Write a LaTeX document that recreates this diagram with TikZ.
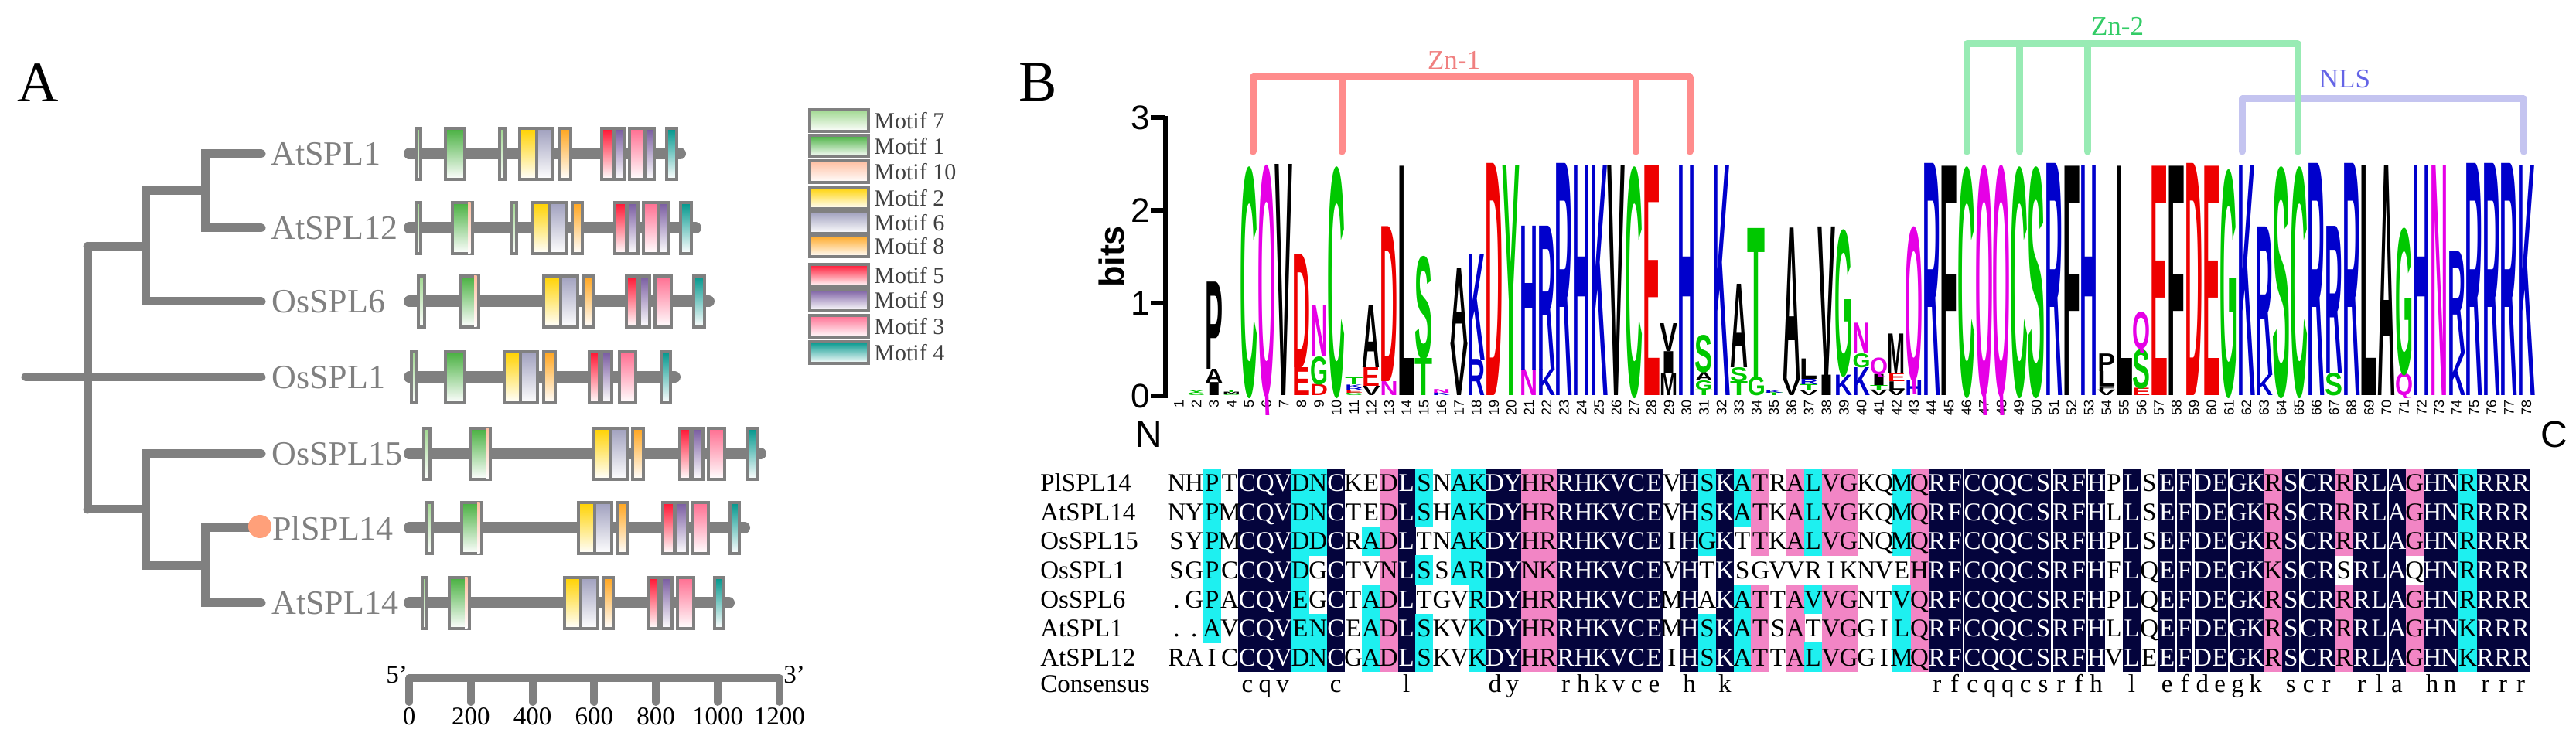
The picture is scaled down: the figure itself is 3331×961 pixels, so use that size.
\documentclass[tikz,border=0pt]{standalone}
\usepackage{fontspec}
\usepackage{graphicx}
\setmainfont{Liberation Serif}
\newfontfamily\sansf{Liberation Sans}
\newcommand\logofont{\sansf\bfseries}
\definecolor{treegray}{HTML}{808080}
\definecolor{legtxt}{HTML}{404040}
\definecolor{c7}{HTML}{A0D890}
\definecolor{c1}{HTML}{48B040}
\definecolor{c10}{HTML}{FFBEA0}
\definecolor{c2}{HTML}{FFD200}
\definecolor{c6}{HTML}{A0A0BE}
\definecolor{c8}{HTML}{FFA51E}
\definecolor{c5}{HTML}{FF1432}
\definecolor{c9}{HTML}{785AA0}
\definecolor{c3}{HTML}{FF6E91}
\definecolor{c4}{HTML}{00968C}
\definecolor{salmonA}{HTML}{FFA07A}
\definecolor{lgG}{HTML}{00C800}
\definecolor{lgB}{HTML}{0000CC}
\definecolor{lgR}{HTML}{EE0000}
\definecolor{lgM}{HTML}{E600E6}
\definecolor{znA}{HTML}{FF8C8C}
\definecolor{znAt}{HTML}{F08080}
\definecolor{znB}{HTML}{98EBB4}
\definecolor{znBt}{HTML}{33CC66}
\definecolor{nlsl}{HTML}{C4C4F0}
\definecolor{nlst}{HTML}{6464E6}
\definecolor{bgn}{HTML}{04043C}
\definecolor{bgp}{HTML}{F285C5}
\definecolor{bgc}{HTML}{1EF0F0}

\newcount\seqcol
\newcount\bgrow
\def\seqloop#1{\ifx#1\relax\else\global\advance\seqcol by 1 \seqcell{#1}\expandafter\seqloop\fi}
\newcommand\seqcell[1]{%
  \pgfmathsetmacro\cx{1510+(\the\seqcol-0.5)*22.87}%
  \pgfmathsetmacro\cy{606+(\seqrow-0.5)*37.6+11}%
  \ifcsname nv\the\seqcol\endcsname\def\tc{white}\else\def\tc{black}\fi
  \node[alnchar,text=\tc] (q\seqrow-\the\seqcol) at (\cx,\cy) {#1};}
\newcommand\alnrow[2]{\def\seqrow{#1}\global\seqcol=0 \seqloop#2\relax}
\def\bgloop#1{\ifx#1\relax\else\global\advance\bgrow by 1 \bgcell#1\expandafter\bgloop\fi}
\newcommand\bgcell[1]{\if#1w\else\fill[bg#1] ({1510+(\j-1)*22.87-0.3},{606+(\the\bgrow-1)*37.6-0.3}) rectangle ({1510+\j*22.87+0.3},{606+\the\bgrow*37.6+0.3});\fi}

\newcommand\logocol[2]{%
  \pgfmathsetmacro\lx{1524.5+(#1-1)*22.63}%
  \gdef\lbase{0}%
  \foreach \L/\C/\H [count=\k] in {#2}{%
    \pgfmathsetmacro\ly{512-\lbase*120}%
    \pgfmathsetmacro\lh{\H*60}%
    \begin{scope}
    \clip (\lx-16,\ly+\H*10) rectangle (\lx+16,\ly-\H*120-20);
    \node[logoletter,text=\C] (lg#1-\k) at (\lx,\ly) {\resizebox{11.5pt}{\lh pt}{\logofont\L}};
    \end{scope}
    \pgfmathsetmacro\lnew{\lbase+\H}\xdef\lbase{\lnew}%
  }}

\newcommand\gene[3]{%
  \draw[geneline] (529.5,#1) -- (#2-7.5,#1);
  \foreach \m/\a/\b in {#3}{\draw[mbox,m\m] (\a,#1-33) rectangle (\b,#1+33);}}

\begin{document}
\begin{tikzpicture}[x=0.5pt,y=-0.5pt,
  tree/.style={draw=treegray,line width=5.5pt,line cap=round},
  leaf/.style={text=treegray,font=\fontsize{22}{26}\selectfont,inner sep=0pt,anchor=west},
  geneline/.style={draw=treegray,line width=7.5pt,line cap=round},
  mbox/.style={draw=treegray,line width=1.75pt},
  m7/.style={top color=c7,bottom color=white},
  m1/.style={top color=c1,bottom color=white},
  m10/.style={top color=c10,bottom color=white},
  m10s/.style={top color=c10,bottom color=white,draw=none},
  m2/.style={top color=c2,bottom color=white},
  m6/.style={top color=c6,bottom color=white},
  m8/.style={top color=c8,bottom color=white},
  m5/.style={top color=c5,bottom color=white},
  m9/.style={top color=c9,bottom color=white},
  m3/.style={top color=c3,bottom color=white},
  m4/.style={top color=c4,bottom color=white},
  legtext/.style={text=legtxt,font=\fontsize{15}{18}\selectfont,anchor=west,inner sep=0pt},
  scalenum/.style={font=\fontsize{16.5}{19}\selectfont,inner sep=0pt},
  panel/.style={font=\fontsize{37}{40}\selectfont,inner sep=0pt},
  logoletter/.style={anchor=base,inner sep=0pt,outer sep=0pt},
  posnum/.style={font=\sansf\fontsize{9}{10}\selectfont,inner sep=0pt,rotate=90,anchor=east},
  axisnum/.style={font=\sansf\fontsize{22}{24}\selectfont,inner sep=0pt,anchor=east},
  brk/.style={line width=4.5pt,line cap=round,line join=round},
  brklab/.style={font=\fontsize{17.5}{20}\selectfont,inner sep=0pt},
  alnchar/.style={font=\fontsize{16.5}{19}\selectfont,inner sep=0pt,anchor=base},
  rowlab/.style={font=\fontsize{16.5}{19}\selectfont,inner sep=0pt,anchor=base west}
]
\useasboundingbox (0,0) rectangle (3331,961);

%% ---------------- Panel A ----------------
\node[panel] (pA) at (49,107) {A};

\coordinate (root) at (33,488);
\coordinate (tOs1) at (338,488);
\coordinate (n3a) at (113,318.5);
\coordinate (n3b) at (113,659);
\coordinate (n2) at (188,318.5);
\coordinate (n1) at (265,247);
\coordinate (tAt1) at (338,199);
\coordinate (tAt12) at (338,295);
\coordinate (tOs6) at (338,390);
\coordinate (n5) at (188,659);
\coordinate (n4) at (265,731.5);
\coordinate (tOs15) at (338,587);
\coordinate (tPl) at (330,683);
\coordinate (tAt14) at (338,780);
\draw[tree] (root) -- (tOs1);
\draw[tree] (n3a) -- (n3b);
\draw[tree] (n3a) -- (n2);
\draw[tree] (n2) |- (n1);
\draw[tree] (n2) |- (tOs6);
\draw[tree] (n1) |- (tAt1);
\draw[tree] (n1) |- (tAt12);
\draw[tree] (n3b) -- (n5);
\draw[tree] (n5) |- (tOs15);
\draw[tree] (n5) |- (n4);
\draw[tree] (n4) |- (tPl);
\draw[tree] (n4) |- (tAt14);
\node[circle,fill=salmonA,minimum size=15pt,inner sep=0pt] (pldot) at (336,681) {};

\node[leaf] (lAt1) at (350,199) {AtSPL1};
\node[leaf] (lAt12) at (350,295) {AtSPL12};
\node[leaf] (lOs6) at (351,390) {OsSPL6};
\node[leaf] (lOs1) at (351,488) {OsSPL1};
\node[leaf] (lOs15) at (351,587) {OsSPL15};
\node[leaf] (lPl) at (352,683) {PlSPL14};
\node[leaf] (lAt14) at (351,780) {AtSPL14};

\gene{199}{887}{7/538/544,1/576/601,7/646/653,2/672/694,6/694/715,8/723/738,5/778/793,9/795/808,3/814/834,9/834/846,4/862/875}
\gene{295}{907}{7/538/544,1/585/611,10s/605/608.5,7/662/668,2/688/711,6/711/732,8/740/753,5/795/810,9/812/825,3/832/852,9/852/864,4/880/894}
\gene{390}{924}{7/541/549,1/595/619,10s/613/616.5,2/703/725,6/725/747,8/755/768,5/810/824,9/827/840,3/847/868,4/897/911}
\gene{488}{880}{7/532/539,1/576/601,2/652/673,6/673/695,8/703/718,5/762/775,9/778/791,3/801/822,4/855/867}
\gene{587}{991}{7/548/556,1/608/634,10s/628/631.5,2/767/789,6/789/811,8/818/832,5/879/893,9/896/909,3/916/937,4/966/979}
\gene{683}{970}{7/552/559,1/597/623,10s/617/620.5,2/748/769,6/769/791,8/798/812,5/857/872,9/874/889,3/895/916,4/944/956}
\gene{780}{950}{7/546/552,1/581/607,10s/601/604.5,2/730/751,6/751/773,8/780/793,5/838/852,9/855/869,3/876/897,4/924/936}

% legend
\foreach \m/\lab/\yy [count=\i] in {7/Motif 7/156,1/Motif 1/189,10/Motif 10/222,2/Motif 2/256,6/Motif 6/288,8/Motif 8/318,5/Motif 5/356,9/Motif 9/388,3/Motif 3/422,4/Motif 4/456}
{\draw[mbox,m\m] (1047,\yy-14) rectangle (1123,\yy+14);
 \node[legtext] (leg\i) at (1130,\yy) {\lab};}

% scale bar
\coordinate (s0) at (529,877);
\coordinate (s1) at (1008,877);
\draw[draw=treegray,line width=5pt] (s0) -- (s1);
\foreach \v [count=\i] in {0,200,400,600,800,1000,1200}{
  \draw[draw=treegray,line width=5pt,line cap=round] (529+\v*0.399,877) -- ++(0,31);
  \node[scalenum] (sn\i) at (529+\v*0.399,927) {\v};}
\node[scalenum] (p5) at (513,873) {5'};
\node[scalenum] (p3) at (1027,873) {3'};

%% ---------------- Panel B ----------------
\node[panel] (pB) at (1342,106) {B};

% brackets
\draw[brk,draw=nlsl] (2899,196) -- (2899,128) -- (3263,128) -- (3263,196);
\draw[brk,draw=znA] (1620,196) -- (1620,100) -- (2185,100) -- (2185,196);
\draw[brk,draw=znA] (1735,100) -- (1735,196);
\draw[brk,draw=znA] (2115,100) -- (2115,196);
\draw[brk,draw=znB] (2543,196) -- (2543,57) -- (2971,57) -- (2971,196);
\draw[brk,draw=znB] (2611,57) -- (2611,196);
\draw[brk,draw=znB] (2699,57) -- (2699,196);
\node[brklab,text=znAt] (zn1) at (1880,78) {Zn-1};
\node[brklab,text=znBt] (zn2) at (2738,34) {Zn-2};
\node[brklab,text=nlst] (nls) at (3032,102) {NLS};

% axis
\draw[line width=3pt] (1507,150) -- (1507,515);
\foreach \t/\yy in {3/152,2/272,1/392,0/512}{
  \draw[line width=3pt] (1488,\yy) -- (1507,\yy);
  \node[axisnum] (ax\t) at (1487,\yy) {\t};}
\node[font=\sansf\bfseries\fontsize{22.5}{24}\selectfont,rotate=90,inner sep=0pt] (bits) at (1437,332) {bits};
\foreach \i in {1,...,78}{
  \node[posnum] (pn\i) at ({1524.5+(\i-1)*22.63},517) {\i};}
\node[font=\sansf\fontsize{24}{26}\selectfont,inner sep=0pt] (Nt) at (1486,562) {N};
\node[font=\sansf\fontsize{24}{26}\selectfont,inner sep=0pt] (Ct) at (3303,562) {C};

% logo
\logocol{2}{G/lgG/0.03,Y/lgG/0.03}
\logocol{3}{I/black/0.14,A/black/0.15,P/black/0.94}
\logocol{4}{C/lgG/0.02,M/black/0.02,T/lgG/0.02}
\logocol{5}{C/lgG/2.46}
\logocol{6}{Q/lgM/2.48}
\logocol{7}{V/black/2.49}
\logocol{8}{E/lgR/0.3,D/lgR/1.22}
\logocol{9}{D/lgR/0.12,G/lgG/0.3,N/lgM/0.55}
\logocol{10}{C/lgG/2.46}
\logocol{11}{G/lgG/0.03,E/lgR/0.03,R/lgB/0.03,K/lgB/0.03,T/lgG/0.08}
\logocol{12}{V/black/0.1,E/lgR/0.2,A/black/0.67}
\logocol{13}{N/lgM/0.15,D/lgR/1.67}
\logocol{14}{L/black/2.47}
\logocol{15}{T/lgG/0.4,S/lgG/1.1}
\logocol{16}{K/lgB/0.03,N/lgM/0.04}
\logocol{17}{V/black/0.57,A/black/0.8}
\logocol{18}{R/lgB/0.39,K/lgB/1.14}
\logocol{19}{D/lgR/2.5}
\logocol{20}{Y/lgG/2.48}
\logocol{21}{N/lgM/0.28,H/lgB/1.55}
\logocol{22}{K/lgB/0.28,R/lgB/1.55}
\logocol{23}{R/lgB/2.5}
\logocol{24}{H/lgB/2.48}
\logocol{25}{K/lgB/2.48}
\logocol{26}{V/black/2.48}
\logocol{27}{C/lgG/2.46}
\logocol{28}{E/lgR/2.48}
\logocol{29}{M/black/0.24,I/black/0.24,V/black/0.3}
\logocol{30}{H/lgB/2.48}
\logocol{31}{T/lgG/0.06,G/lgG/0.1,A/black/0.09,S/lgG/0.4}
\logocol{32}{K/lgB/2.48}
\logocol{33}{T/lgG/0.15,S/lgG/0.15,A/black/0.9}
\logocol{34}{G/lgG/0.2,T/lgG/1.6}
\logocol{35}{T/lgG/0.03,K/lgB/0.03}
\logocol{36}{V/black/0.18,A/black/1.63}
\logocol{37}{V/black/0.05,T/lgG/0.07,R/lgB/0.06,L/black/0.22}
\logocol{38}{I/black/0.22,V/black/1.6}
\logocol{39}{K/lgB/0.22,G/lgG/1.57}
\logocol{40}{K/lgB/0.3,G/lgG/0.15,N/lgM/0.33}
\logocol{41}{V/black/0.06,T/lgG/0.05,I/black/0.12,Q/lgM/0.18}
\logocol{42}{V/black/0.06,L/black/0.09,E/lgR/0.09,M/black/0.43}
\logocol{43}{H/lgB/0.16,Q/lgM/1.66}
\logocol{44}{R/lgB/2.5}
\logocol{45}{F/black/2.47}
\logocol{46}{C/lgG/2.46}
\logocol{47}{Q/lgM/2.48}
\logocol{48}{Q/lgM/2.48}
\logocol{49}{C/lgG/2.46}
\logocol{50}{S/lgG/2.46}
\logocol{51}{R/lgB/2.5}
\logocol{52}{F/black/2.47}
\logocol{53}{H/lgB/2.48}
\logocol{54}{V/black/0.06,F/black/0.04,L/black/0.16,P/black/0.19}
\logocol{55}{L/black/2.47}
\logocol{56}{E/lgR/0.08,S/lgG/0.42,Q/lgM/0.4}
\logocol{57}{E/lgR/2.47}
\logocol{58}{F/black/2.47}
\logocol{59}{D/lgR/2.5}
\logocol{60}{E/lgR/2.47}
\logocol{61}{G/lgG/2.43}
\logocol{62}{K/lgB/2.48}
\logocol{63}{K/lgB/0.22,R/lgB/1.6}
\logocol{64}{S/lgG/2.46}
\logocol{65}{C/lgG/2.46}
\logocol{66}{R/lgB/2.5}
\logocol{67}{S/lgG/0.24,R/lgB/1.59}
\logocol{68}{R/lgB/2.5}
\logocol{69}{L/black/2.48}
\logocol{70}{A/black/2.48}
\logocol{71}{Q/lgM/0.24,G/lgG/1.57}
\logocol{72}{H/lgB/2.48}
\logocol{73}{N/lgM/2.48}
\logocol{74}{K/lgB/0.45,R/lgB/1.1}
\logocol{75}{R/lgB/2.5}
\logocol{76}{R/lgB/2.5}
\logocol{77}{R/lgB/2.5}
\logocol{78}{K/lgB/2.48}

% alignment backgrounds
\foreach \j in {5,6,7,10,14,19,20,23,24,25,26,27,28,30,32,44,45,46,47,48,49,50,51,52,53,55,57,58,59,60,61,62,64,65,66,68,69,70,72,73,75,76,77}{
  \expandafter\gdef\csname nv\j\endcsname{}%
  \fill[bgn] ({1510+(\j-1)*22.87-0.3},606) rectangle ({1510+\j*22.87+0.3},869.2);}
\foreach \j in {13,21,22,43,63}{
  \fill[bgp] ({1510+(\j-1)*22.87-0.3},606) rectangle ({1510+\j*22.87+0.3},869.2);}
\foreach \j in {8,18,74}{
  \fill[bgc] ({1510+(\j-1)*22.87-0.3},606) rectangle ({1510+\j*22.87+0.3},869.2);}
\foreach \j/\cs in {3/ccccccw,9/cccwwcc,12/wwcwccc,15/ccwcwcc,17/ccccwww,31/cccwwcc,33/ccwwccc,34/pppwppp,36/pppwppp,37/cccwcwc,38/pppwppp,39/pppwppp,42/cccwccc,67/pppwppp,71/pppwppp}{
  \global\bgrow=0 \expandafter\bgloop\cs\relax}
\foreach \b in {45,50,52,57,58,60,64,69}{
  \draw[white,line width=1.2pt] ({1510+\b*22.87},606) -- ({1510+\b*22.87},869.2);}

% alignment text
\foreach \r/\nm in {1/PlSPL14,2/AtSPL14,3/OsSPL15,4/OsSPL1,5/OsSPL6,6/AtSPL1,7/AtSPL12}{
  \node[rowlab] (rl\r) at (1345,{606+(\r-0.5)*37.6+11}) {\nm};}
\node[rowlab] (rl8) at (1345,895) {Consensus};
\alnrow{1}{NHPTCQVDNCKEDLSNAKDYHRRHKVCEVHSKATRALVGKQMQRFCQQCSRFHPLSEFDEGKRSCRRRLAGHNRRRR}
\alnrow{2}{NYPMCQVDNCTEDLSHAKDYHRRHKVCEVHSKATKALVGKQMQRFCQQCSRFHLLSEFDEGKRSCRRRLAGHNRRRR}
\alnrow{3}{SYPMCQVDDCRADLTNAKDYHRRHKVCEIHGKTTKALVGNQMQRFCQQCSRFHPLSEFDEGKRSCRRRLAGHNRRRR}
\alnrow{4}{SGPCCQVDGCTVNLSSARDYNKRHKVCEVHTKSGVVRIKNVEHRFCQQCSRFHFLQEFDEGKKSCRSRLAQHNRRRR}
\alnrow{5}{.GPACQVEGCTADLTGVRDYHRRHKVCEMHAKATTAVVGNTVQRFCQQCSRFHPLQEFDEGKRSCRRRLAGHNRRRR}
\alnrow{6}{..AVCQVENCEADLSKVKDYHRRHKVCEMHSKATSATVGGILQRFCQQCSRFHLLQEFDEGKRSCRRRLAGHNKRRR}
\alnrow{7}{RAICCQVDNCGADLSKVKDYHRRHKVCEIHSKATTALVGGIMQRFCQQCSRFHVLEEFDEGKRSCRRRLAGHNKRRR}
\foreach \j/\c in {5/c,6/q,7/v,10/c,14/l,19/d,20/y,23/r,24/h,25/k,26/v,27/c,28/e,30/h,32/k,44/r,45/f,46/c,47/q,48/q,49/c,50/s,51/r,52/f,53/h,55/l,57/e,58/f,59/d,60/e,61/g,62/k,64/s,65/c,66/r,68/r,69/l,70/a,72/h,73/n,75/r,76/r,77/r}{
  \node[alnchar] (cs\j) at ({1510+(\j-0.5)*22.87},895) {\c};}
\end{tikzpicture}
\end{document}
